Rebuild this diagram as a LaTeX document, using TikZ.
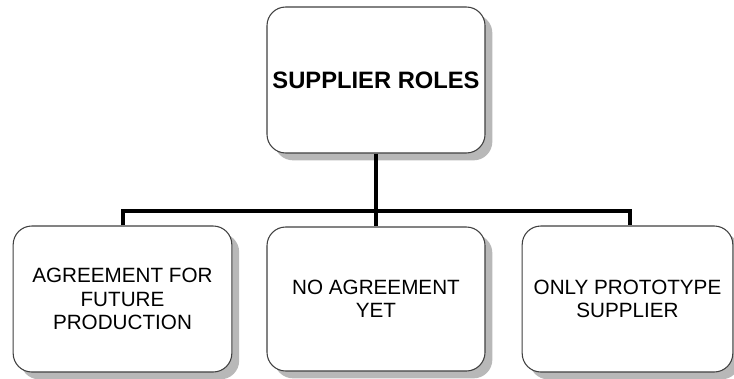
\documentclass[tikz,border=0pt]{standalone}
\usepackage{fontspec}
\setmainfont{Liberation Sans}
\usetikzlibrary{shadows}
\begin{document}
\begin{tikzpicture}[x=0.75pt,y=-0.75pt,
  rolebox/.style={draw=black!75,line width=0.8pt,fill=white,rounded corners=14pt,
    align=center,inner sep=0pt,
    drop shadow={shadow xshift=5.5pt,shadow yshift=-5.5pt,fill=black!28,opacity=1}},
  label text/.style={font=\fontsize{15.5}{17.5}\selectfont},
  link/.style={line width=2.6pt,black}]
\useasboundingbox (0,0) rectangle (734,378);
% root and the three branches
\node[rolebox,minimum width=163.5pt,minimum height=109.5pt,
  font=\fontsize{17.8}{20}\selectfont\bfseries] (root) at (376,80) {SUPPLIER ROLES};
\node[rolebox,label text,minimum width=164pt,minimum height=109.5pt]
  (left) at (122.5,299) {AGREEMENT FOR\\FUTURE\\PRODUCTION};
\node[rolebox,label text,minimum width=163.5pt,minimum height=108pt]
  (mid) at (376,299) {NO AGREEMENT\\YET};
\node[rolebox,label text,minimum width=158pt,minimum height=109.5pt]
  (right) at (627.5,299) {ONLY PROTOTYPE\\SUPPLIER};
% tree connectors
\coordinate (bus) at (376,211);
\draw[link] (root.south) -- (bus);
\draw[link] (bus) -- (mid.north);
\draw[link] (left.north -| 123,0) |- (bus) -| (right.north -| 630,0);
\end{tikzpicture}
\end{document}
